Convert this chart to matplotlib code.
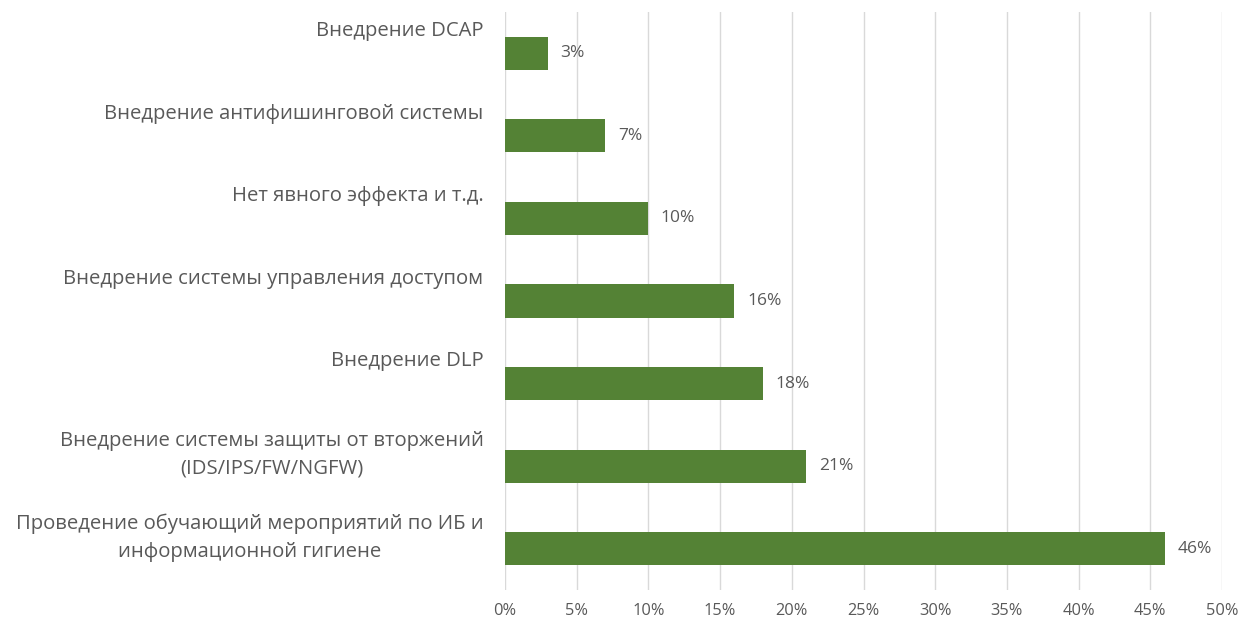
import matplotlib.pyplot as plt
from matplotlib.ticker import FuncFormatter
from matplotlib.transforms import offset_copy

categories = [
    "Внедрение DCAP",
    "Внедрение антифишинговой системы",
    "Нет явного эффекта и т.д.",
    "Внедрение системы управления доступом",
    "Внедрение DLP",
    "Внедрение системы защиты от вторжений\n(IDS/IPS/FW/NGFW)",
    "Проведение обучающий мероприятий по ИБ и\nинформационной гигиене",
]
values = [3, 7, 10, 16, 18, 21, 46]
x_ticks = [0, 5, 10, 15, 20, 25, 30, 35, 40, 45, 50]

bar_color = "#548235"
text_color = "#595959"
plt.rcParams['font.family'] = ['Open Sans', 'DejaVu Sans']

fig = plt.figure(figsize=(12.42, 6.18), dpi=100)
ax = fig.add_axes([0.4066, 0.0453, 0.5773, 0.9353])

pos = list(range(len(categories)))
ax.barh(pos, values, height=0.40, color=bar_color, zorder=3)

ax.set_xlim(0, 50)
ax.set_ylim(len(categories) - 0.5, -0.5)
ax.set_xticks(x_ticks)
ax.xaxis.set_major_formatter(FuncFormatter(lambda v, p: f"{v:.0f}%"))
ax.tick_params(axis='x', length=0, pad=9, labelsize=11.8, labelcolor=text_color)
ax.set_yticks([])
ax.grid(axis='x', color="#d9d9d9", linewidth=1, zorder=0)
for s in ax.spines.values():
    s.set_visible(False)

# value labels
for p, v in zip(pos, values):
    ax.annotate(f"{v}%", (v, p), xytext=(9, 0), textcoords='offset points',
                va='center', ha='left', fontsize=12.5, color=text_color)

# category labels sit above the bar centre, like the Excel original
lab_tr = offset_copy(ax.get_yaxis_transform(), fig=fig, x=-15.5, y=0, units='points')
for p, c in zip(pos, categories):
    top = p - 0.39 if "\n" not in c else p - 0.43
    ax.text(0, top, c, transform=lab_tr, ha='right', va='top',
            multialignment='center', fontsize=14.6, color=text_color,
            linespacing=1.55)

fig.savefig("out.png", dpi=100)
